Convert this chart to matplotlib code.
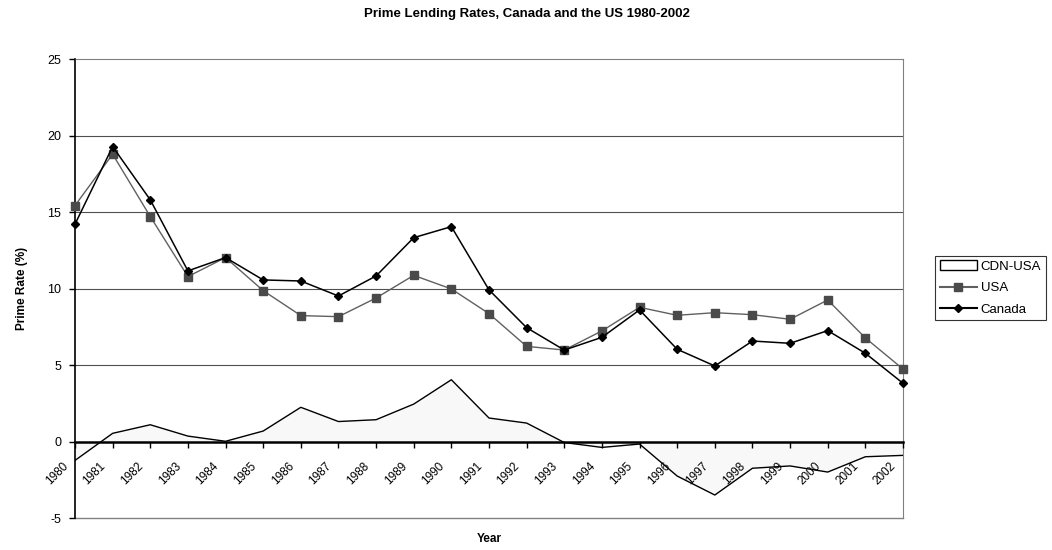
import matplotlib
matplotlib.use('Agg')
import matplotlib.pyplot as plt
import matplotlib.transforms as mtransforms
from matplotlib.patches import Patch
from matplotlib.lines import Line2D

plt.rcParams['font.family'] = ['Liberation Sans', 'DejaVu Sans']
plt.rcParams['axes.unicode_minus'] = False

YEARS = list(range(1980, 2003))
USA = [15.43, 18.78, 14.71, 10.79, 12.03, 9.87, 8.24, 8.17, 9.39, 10.87, 9.98, 8.37,
       6.23, 5.99, 7.24, 8.78, 8.26, 8.43, 8.30, 8.00, 9.26, 6.78, 4.75]
CANADA = [14.21, 19.28, 15.80, 11.16, 12.03, 10.57, 10.50, 9.52, 10.83, 13.33, 14.05, 9.92,
          7.45, 5.99, 6.82, 8.61, 6.04, 4.95, 6.58, 6.43, 7.26, 5.78, 3.82]
CDN_USA = [-1.22, 0.55, 1.11, 0.37, 0.03, 0.70, 2.25, 1.32, 1.44, 2.46, 4.05, 1.55,
           1.22, -0.05, -0.37, -0.15, -2.24, -3.48, -1.73, -1.58, -1.98, -0.98, -0.89]

fig = plt.figure(figsize=(10.52, 5.5), dpi=100)
ax = fig.add_axes([75 / 1052, 1 - 518.3 / 550, 828 / 1052, 459.3 / 550])

x = list(range(len(YEARS)))

for yv in [5, 10, 15, 20]:
    ax.axhline(yv, color='#505050', lw=0.8, zorder=1)
ax.axhline(-5, color='#808080', lw=1.0, zorder=1, clip_on=False)

ax.fill_between(x, 0, CDN_USA, facecolor='#f8f8f8', edgecolor='none', zorder=2)
ax.plot(x, CDN_USA, color='black', lw=1.0, zorder=3)
ax.plot(x, USA, color='#606060', lw=1.0, marker='s', markersize=6,
        markerfacecolor='#4a4a4a', markeredgecolor='#4a4a4a', zorder=4, clip_on=False)
ax.plot(x, CANADA, color='black', lw=1.1, marker='D', markersize=4.5,
        markerfacecolor='black', markeredgecolor='black', zorder=5, clip_on=False)

ax.set_xlim(0, len(YEARS) - 1)
ax.set_ylim(-5, 25)

ax.spines['bottom'].set_position(('data', 0))
ax.spines['bottom'].set_linewidth(1.8)
ax.spines['bottom'].set_zorder(3.5)
ax.spines['left'].set_color('black')
ax.spines['left'].set_linewidth(1.2)
ax.spines['top'].set_color('#808080')
ax.spines['right'].set_color('#808080')
ax.xaxis.set_zorder(2.5)
ax.yaxis.set_zorder(2.5)

ax.set_yticks([-5, 0, 5, 10, 15, 20, 25])
ax.tick_params(axis='y', direction='out', length=4, width=1, labelsize=9, pad=6)
ax.set_xticks(x)
ax.set_xticklabels([str(y) for y in YEARS], rotation=45, ha='right', va='top',
                   rotation_mode='anchor', fontsize=8.5)
ax.tick_params(axis='x', direction='out', length=4, width=1, pad=9)
offset = mtransforms.ScaledTranslation(-13 / 100, 0, fig.dpi_scale_trans)
for lbl in ax.get_xticklabels():
    lbl.set_transform(lbl.get_transform() + offset)

ax.set_ylabel('Prime Rate (%)', fontsize=8.5, fontweight='bold', labelpad=14)
fig.text(489 / 1052, 1 - 539 / 550, 'Year', fontsize=8.5, fontweight='bold',
         ha='center', va='center')
fig.text(527 / 1052, 1 - 14 / 550, 'Prime Lending Rates, Canada and the US 1980-2002',
         fontsize=9.5, fontweight='bold', ha='center', va='center')

handles = [
    Patch(facecolor='white', edgecolor='black', lw=1.0),
    Line2D([], [], color='#606060', marker='s', markersize=6,
           markerfacecolor='#4a4a4a', markeredgecolor='#4a4a4a'),
    Line2D([], [], color='black', marker='D', markersize=4.5),
]
leg = fig.legend(handles, ['CDN-USA', 'USA', 'Canada'], loc='center left',
                 bbox_to_anchor=(935 / 1052, 1 - 288 / 550), fontsize=9.5,
                 frameon=True, fancybox=False, edgecolor='black', borderpad=0.35,
                 handlelength=2.8, handletextpad=0.3, labelspacing=0.7,
                 borderaxespad=0)
leg.get_frame().set_linewidth(0.8)

fig.savefig('out.png', dpi=100)
